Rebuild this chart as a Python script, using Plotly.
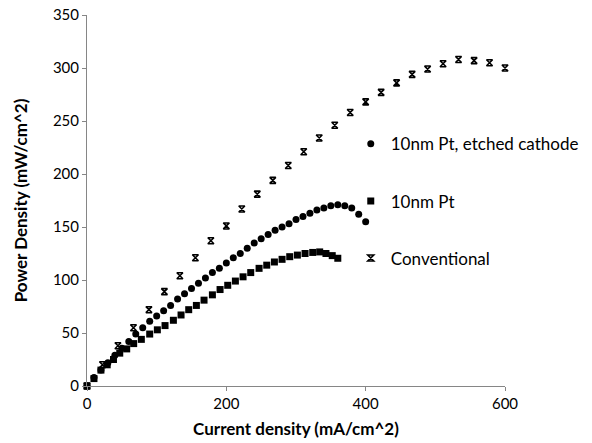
import plotly.graph_objects as go

# Conventional
conv_x = [0, 22.2, 44.4, 66.7, 88.9, 111.1, 133.3, 155.6, 177.8, 200, 222.2, 244.4, 266.7, 288.9,
          311.1, 333.3, 355.6, 377.8, 400, 422.2, 444.4, 466.7, 488.9, 511.1, 533.3, 555.6, 577.8, 600]
conv_y = [0, 20, 38, 55, 72, 89, 104, 121, 137, 151, 167, 181, 194, 208,
          221, 234, 246, 258, 268, 277, 286, 294, 299, 304, 308, 307, 305, 300]

# 10nm Pt, etched cathode
etch_x = [0, 10, 20, 30, 40, 50, 60, 70, 80, 90, 100, 110, 120, 130, 140, 150, 160, 170, 180, 190,
          200, 210, 220, 230, 240, 250, 260, 270, 280, 290, 300, 310, 320, 330, 340, 350, 360, 370,
          380, 390, 400]
etch_y = [0, 8, 15, 22, 29, 35.5, 42, 49, 55, 61, 66, 71, 76, 82, 87, 92, 97, 102, 107, 111,
          116, 121, 125, 130, 135, 139, 143, 147, 150, 153, 157, 160, 163, 166, 168, 170, 171, 170,
          168, 162, 155]

# 10nm Pt
pt_x = [0, 10, 20, 29, 38, 47, 57, 67, 78, 90, 101, 112, 124, 135, 146, 157, 168, 180, 191, 202,
        213, 224, 235, 247, 258, 269, 280, 291, 302, 313, 324, 334, 343, 352, 360]
pt_y = [0, 7, 15, 20, 25, 31, 35, 40, 44, 49, 53, 57, 62, 67, 72, 76, 81, 86, 91, 95,
        99, 103, 107, 111, 114, 117, 119.5, 122, 123.5, 125, 126, 126.5, 125, 123, 120.5]

FONT = "Lato"
fig = go.Figure()
fig.add_trace(go.Scatter(x=etch_x, y=etch_y, mode="markers", name="10nm Pt, etched cathode",
                         legendgroup="a",
                         marker=dict(symbol="circle", size=7, color="black"), cliponaxis=False))
fig.add_trace(go.Scatter(x=pt_x, y=pt_y, mode="markers", name="10nm Pt", legendgroup="b",
                         marker=dict(symbol="square", size=7, color="black"), cliponaxis=False))
fig.add_trace(go.Scatter(x=conv_x, y=conv_y, mode="markers", name="Conventional", legendgroup="c",
                         marker=dict(symbol="hourglass-open", size=6, color="black",
                                     line=dict(width=1.6, color="black")), cliponaxis=False))

axis_common = dict(showgrid=False, zeroline=False, showline=True, linecolor="#868686", linewidth=1,
                   ticks="outside", ticklen=4, tickcolor="#868686",
                   tickfont=dict(family=FONT, size=15, color="black"))
fig.update_xaxes(range=[0, 600], dtick=200, **axis_common,
                 title=dict(text="<b>Current density (mA/cm^2)</b>", font=dict(family=FONT, size=17, color="black"),
                            standoff=12))
fig.update_yaxes(range=[0, 350], dtick=50, **axis_common,
                 title=dict(text="<b>Power Density (mW/cm^2)</b>", font=dict(family=FONT, size=17, color="black"),
                            standoff=20))
fig.update_layout(
    width=592, height=443,
    margin=dict(l=87, r=86.5, t=15, b=57, autoexpand=False),
    plot_bgcolor="white", paper_bgcolor="white",
    showlegend=True,
    legend=dict(x=0.631, y=0.70, xanchor="left", yanchor="top", bgcolor="rgba(0,0,0,0)",
                font=dict(family=FONT, size=17, color="black"),
                traceorder="grouped", tracegroupgap=32, itemwidth=30),
)
fig.write_html("out.html")
